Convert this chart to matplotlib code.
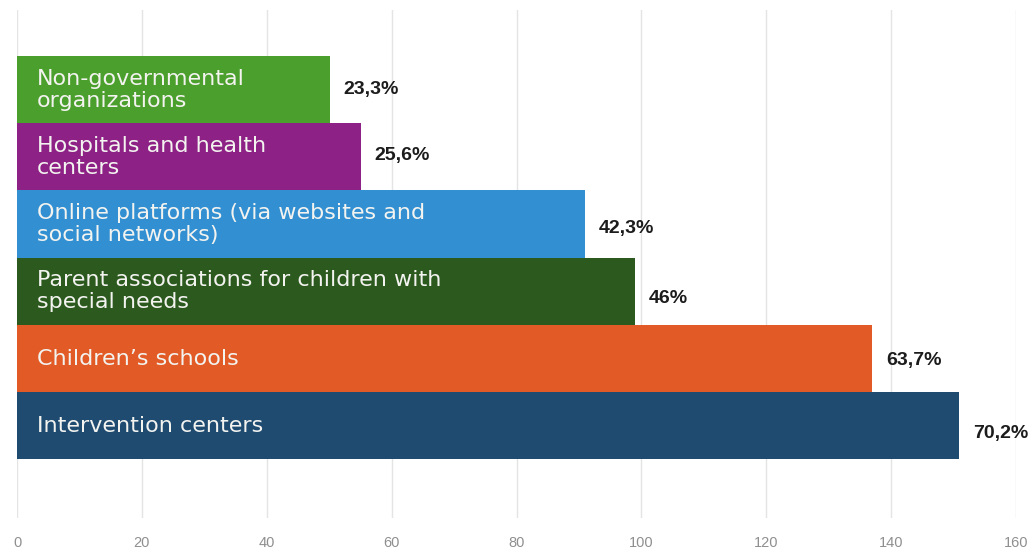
import matplotlib
matplotlib.use("Agg")
import matplotlib.pyplot as plt
from matplotlib.transforms import offset_copy

# Sources of information for parents (share of respondents, N = 215)
categories = [
    "Intervention centers",
    "Children\u2019s schools",
    "Parent associations for children with\nspecial needs",
    "Online platforms (via websites and\nsocial networks)",
    "Hospitals and health\ncenters",
    "Non-governmental\norganizations",
]
percent = [70.2, 63.7, 46.0, 42.3, 25.6, 23.3]
respondents = 215
x_ticks = [0, 20, 40, 60, 80, 100, 120, 140, 160]

colors = ["#1f4b71", "#e25b27", "#2c5a1e", "#3290d2", "#8e2186", "#4b9f2c"]
label_nudge_px = [8, 2, 7, 4, -1, 0]

counts = [p * respondents / 100 for p in percent]


def fmt_pct(p):
    s = f"{p:.1f}"
    if s.endswith(".0"):
        s = s[:-2]
    return s.replace(".", ",") + "%"


fig = plt.figure(figsize=(10.34, 5.5), dpi=100)
ax = fig.add_axes([17 / 1034, 32 / 550, 999 / 1034, 508 / 550])

ypos = list(range(len(categories)))
ax.barh(ypos, counts, height=1.0, color=colors, zorder=2)

ax.set_xlim(0, 160)
ax.set_ylim(-1.373, 6.185)
ax.set_xticks(x_ticks)
ax.set_xticklabels([str(t) for t in x_ticks])
ax.set_yticks([])
ax.grid(axis="x", color="#e4e4e4", linewidth=1.0, zorder=0)
for s in ax.spines.values():
    s.set_visible(False)
ax.tick_params(axis="x", length=0, pad=13, labelsize=10.5, labelcolor="#8f8f8f")
for t in ax.get_xticklabels():
    t.set_fontfamily("Liberation Sans")

# category names inside the bars
name_tr = offset_copy(ax.transData, fig=fig, x=20, y=0, units="dots")
for y, name in zip(ypos, categories):
    ax.text(0, y, name, transform=name_tr, ha="left", va="center",
            fontsize=16, color="#f3f3f0", family="DejaVu Sans",
            linespacing=1.12, zorder=3)

# value labels at bar ends
for y, c, p, nudge in zip(ypos, counts, percent, label_nudge_px):
    tr = offset_copy(ax.transData, fig=fig, x=14, y=-nudge, units="dots")
    ax.text(c, y, fmt_pct(p), transform=tr, ha="left", va="center",
            fontsize=14, fontweight="bold", color="#1c1c1c",
            family="Liberation Sans", zorder=3)

fig.savefig("out.png", dpi=100, facecolor="white")
